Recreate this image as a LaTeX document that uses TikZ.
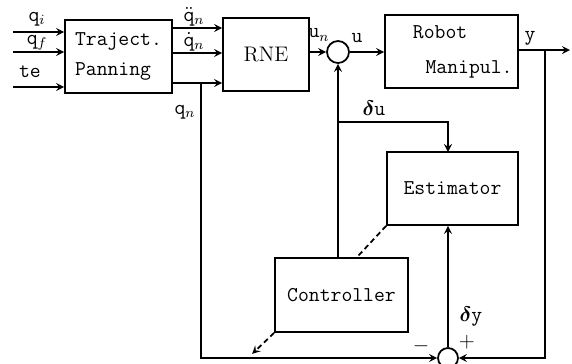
\documentclass[tikz,border=0pt]{standalone}
\usepackage{amsmath}
\usetikzlibrary{arrows, positioning, calc}

\begin{document}
\begin{tikzpicture}[
    x=0.02cm, y=-0.02cm,
    box/.style={rectangle, draw, line width=1pt, minimum height=1.46cm, font=\large\ttfamily},
    sum/.style={circle, draw, line width=1pt, minimum size=0.44cm, inner sep=0pt},
    arrow/.style={->, >=stealth, line width=1pt},
    lbl/.style={font=\large, inner sep=1pt}
]
\useasboundingbox (0,0) rectangle (572,363);

% Forward path
\node[box, minimum width=2.14cm, align=left] (traj) at (118.5,56.5) {Traject.\\[3pt]Panning};
\node[box, minimum width=1.72cm, font=\large\rmfamily] (rne) at (266,54.5) {RNE};
\node[sum] (sumu) at (338,52) {};
\node[box, minimum width=2.66cm, align=left, text width=2.3cm] (robot) at (451.5,51.5) {\hspace*{0.9em}Robot\\[6pt]\hspace*{1.5em}Manipul.};

% Feedback path
\node[box, minimum width=2.62cm] (est) at (452.5,188.5) {Estimator};
\node[box, minimum width=2.66cm, minimum height=1.48cm] (ctrl) at (341.5,295) {Controller};
\node[sum, minimum size=0.4cm] (sumy) at (448,358) {};

% Inputs
\coordinate (qi) at (13,32);
\coordinate (qf) at (13,52);
\coordinate (te) at (13,87);
\draw[arrow] (qi) -- (traj.west |- qi);
\draw[arrow] (qf) -- (traj.west |- qf);
\draw[arrow] (te) -- (traj.west |- te);

% Trajectory outputs
\coordinate (qdd) at ($(traj.east)+(0,-28.5)$);
\coordinate (qd) at ($(traj.east)+(0,-3.5)$);
\coordinate (qn) at ($(traj.east)+(0,26.5)$);
\coordinate (qnsplit) at ($(qn)+(28,0)$);
\draw[arrow] (qdd) -- (rne.west |- qdd);
\draw[arrow] (qd) -- (rne.west |- qd);
\draw[arrow] (qn) -- (rne.west |- qn);
\draw[arrow] (qnsplit) |- (sumy.west);

% Control signal
\draw[arrow] (rne.east |- sumu) -- (sumu.west);
\draw[arrow] (sumu.east) -- (robot.west |- sumu);
\draw[arrow] (ctrl.north -| sumu) -- (sumu.south);
\coordinate (dusplit) at (338,122);
\coordinate (estin) at (448,152);
\draw[arrow] (dusplit) -| (estin);

% Output and error
\coordinate (yout) at (570,50);
\coordinate (ysplit) at (545,50);
\draw[arrow] (robot.east |- yout) -- (yout);
\draw[arrow] (ysplit) |- (sumy.east);
\draw[arrow] (sumy.north) -- (sumy.north |- est.south);

% Dashed links
\draw[line width=1pt, densely dashed] (est.south west) -- ($(ctrl.north)+(15.5,0)$);
\draw[line width=1pt, densely dashed, ->, >=stealth] (ctrl.south west) -- ++(-22,21);

% Labels
\node[lbl] at (37,19) {$\mathtt{q}_i$};
\node[lbl] at (37,43) {$\mathtt{q}_f$};
\node[lbl] at (30,72) {\ttfamily te};
\node[lbl] at (194,17) {$\ddot{\mathtt{q}}_n$};
\node[lbl] at (194,42) {$\dot{\mathtt{q}}_n$};
\node[lbl] at (185,112) {$\mathtt{q}_n$};
\node[lbl] at (319,35) {$\mathtt{u}_n$};
\node[lbl] at (357,38) {$\mathtt{u}$};
\node[lbl] at (530,38) {$\mathtt{y}$};
\node[lbl] at (374,108) {$\boldsymbol{\delta}\mathtt{u}$};
\node[lbl] at (471,317) {$\boldsymbol{\delta}\mathtt{y}$};
\node[lbl] at (421,346) {$-$};
\node[lbl] at (467,342) {$+$};

\end{tikzpicture}
\end{document}
